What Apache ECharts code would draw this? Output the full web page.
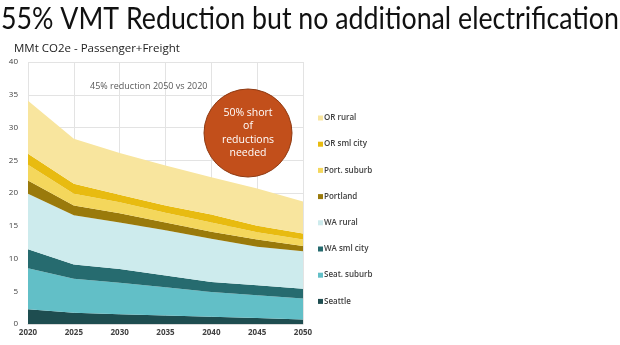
<!DOCTYPE html>
<html>
<head>
<meta charset="utf-8">
<script src="https://cdn.jsdelivr.net/npm/echarts@6/dist/echarts.min.js"></script>
<style>
  html, body { margin: 0; padding: 0; background: #ffffff; }
  #chart { width: 620px; height: 345px; }
</style>
</head>
<body>
<div id="chart"></div>
<script>
// Years on the horizontal axis
const years = ['2020', '2025', '2030', '2035', '2040', '2045', '2050'];
const yTicks = [0, 5, 10, 15, 20, 25, 30, 35, 40];

// Emissions by region type, MMt CO2e (stacked bottom to top)
const seattle    = [2.25, 1.7, 1.5, 1.3, 1.1, 0.9, 0.7];
const seatSuburb = [6.25, 5.2, 4.8, 4.3, 3.8, 3.5, 3.2];
const waSmlCity  = [2.9, 2.2, 2.1, 1.8, 1.5, 1.5, 1.5];
const waRural    = [8.5, 7.5, 7.1, 6.9, 6.6, 5.9, 5.7];
const portland   = [2.0, 1.5, 1.4, 1.2, 1.1, 1.1, 0.8];
const portSuburb = [2.4, 1.8, 1.7, 1.5, 1.4, 1.1, 1.0];
const orSmlCity  = [1.7, 1.5, 1.15, 1.1, 1.2, 1.0, 0.9];
const orRural    = [8.1, 6.9, 6.35, 6.1, 5.7, 5.7, 4.9];

const layers = [
  { name: 'Seattle',      data: seattle,    color: '#1e4d50' },
  { name: 'Seat. suburb', data: seatSuburb, color: '#62bfc7' },
  { name: 'WA sml city',  data: waSmlCity,  color: '#266b6f' },
  { name: 'WA rural',     data: waRural,    color: '#cdebed' },
  { name: 'Portland',     data: portland,   color: '#9a7a0b' },
  { name: 'Port. suburb', data: portSuburb, color: '#f4d75c' },
  { name: 'OR sml city',  data: orSmlCity,  color: '#e8bb10' },
  { name: 'OR rural',     data: orRural,    color: '#f8e59e' }
];

// Headline: a condensed look, squeezing a regular face horizontally
const headline = '55% VMT Reduction but no additional electrification';
const headFont = '31px Lato';
const headScaleX = 0.863;

const chart = echarts.init(document.getElementById('chart'), null, { renderer: 'canvas' });

chart.setOption({
  animation: false,
  backgroundColor: '#ffffff',
  title: {
    text: 'MMt CO2e - Passenger+Freight',
    left: 9, top: 38,
    textStyle: { fontFamily: 'Open Sans', fontSize: 11.5, fontWeight: 'normal', color: '#222222' }
  },
  grid: { left: 28, right: 317, top: 62, bottom: 21, containLabel: false },
  legend: {
    orient: 'vertical',
    left: 313, top: 109,
    itemWidth: 5, itemHeight: 5, itemGap: 18.2,
    icon: 'rect',
    data: layers.map(l => l.name).reverse(),
    textStyle: { fontFamily: 'Open Sans', fontSize: 8, fontWeight: 600, color: '#404040', padding: [0, 0, 0, -4] }
  },
  xAxis: {
    type: 'category',
    data: years,
    boundaryGap: false,
    axisLine: { show: true, lineStyle: { color: '#d9d9d9' } },
    axisTick: { show: false },
    splitLine: { show: true, lineStyle: { color: '#e3e3e3', width: 1 } },
    axisLabel: { fontFamily: 'Open Sans', fontSize: 8, fontWeight: 'bold', color: '#404040', margin: 5 }
  },
  yAxis: {
    type: 'value',
    min: yTicks[0], max: yTicks[yTicks.length - 1], interval: 5,
    axisLine: { show: false },
    axisTick: { show: false },
    splitLine: { lineStyle: { color: '#e3e3e3', width: 1 } },
    axisLabel: { fontFamily: 'Open Sans', fontSize: 8, color: '#404040', margin: 10 }
  },
  series: layers.map(l => ({
    name: l.name,
    type: 'line',
    stack: 'total',
    data: l.data,
    symbol: 'none',
    color: l.color,
    lineStyle: { width: 0 },
    areaStyle: { color: l.color, opacity: 1 },
    z: 2
  })),
  graphic: [
    {
      type: 'text',
      x: 1, y: 3,
      scaleX: headScaleX,
      style: { text: headline, font: headFont, fill: '#111111' },
      z: 10
    },
    {
      type: 'text',
      left: 90, top: 82,
      style: { text: '45% reduction 2050 vs 2020', fontFamily: 'Open Sans', fontSize: 9, fill: '#595959' },
      z: 10
    },
    {
      type: 'circle',
      shape: { cx: 248, cy: 133, r: 44 },
      style: { fill: '#c24f1b', stroke: '#8f3a12', lineWidth: 1 },
      z: 10
    },
    {
      type: 'text',
      x: 248, y: 133,
      style: {
        text: '50% short\nof\nreductions\nneeded',
        fontFamily: 'Open Sans', fontSize: 10.5, lineHeight: 13.3,
        fill: '#ffffff', align: 'center', verticalAlign: 'middle'
      },
      z: 11
    }
  ]
});
</script>
</body>
</html>
